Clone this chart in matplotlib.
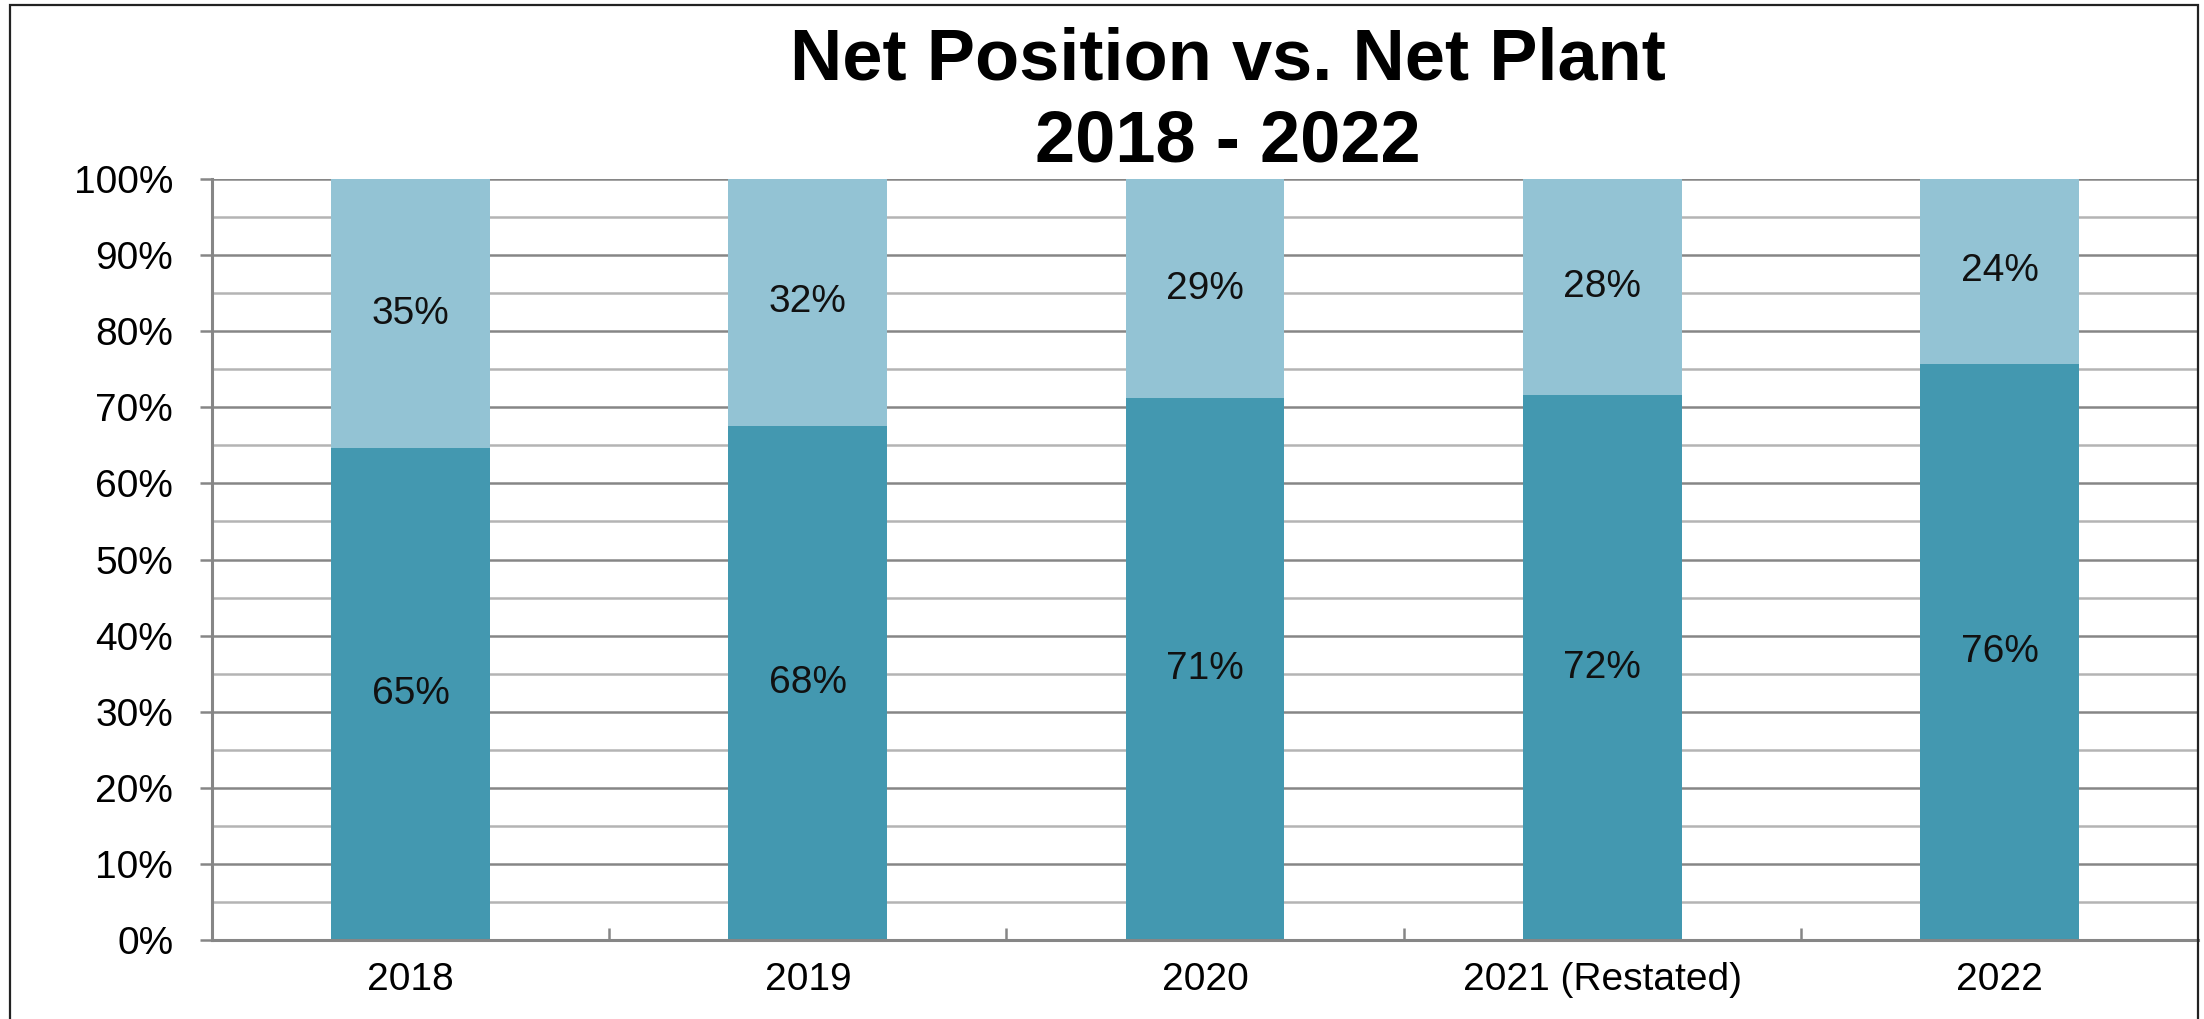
import numpy as np
import matplotlib.pyplot as plt
from matplotlib.ticker import MultipleLocator, FixedLocator, PercentFormatter
from matplotlib.patches import Rectangle

# data (percent of each bar)
years = ["2018", "2019", "2020", "2021 (Restated)", "2022"]
lower_pct = [64.6, 67.6, 71.2, 71.6, 75.7]
upper_pct = [35.4, 32.4, 28.8, 28.4, 24.3]

title_lines = ["Net Position vs. Net Plant", "2018 - 2022"]

dark = "#4398b0"
light = "#93c3d4"
major_grid = "#868686"
minor_grid = "#b4b4b4"

plt.rcParams['font.family'] = ['Liberation Sans', 'DejaVu Sans']

fig = plt.figure(figsize=(22.04, 10.19), dpi=100)
ax = fig.add_axes([0.0962, 0.0775, 0.9011, 0.7468])

x = np.arange(len(years))
b1 = ax.bar(x, lower_pct, width=0.4, color=dark, zorder=3)
b2 = ax.bar(x, upper_pct, width=0.4, bottom=lower_pct, color=light, zorder=3)
ax.bar_label(b1, fmt='{:.0f}%', label_type='center', fontsize=28, color='#111111')
ax.bar_label(b2, fmt='{:.0f}%', label_type='center', fontsize=28, color='#111111')

ax.set_xlim(-0.5, len(years) - 0.5)
ax.set_ylim(0, 100)

# y axis: gridlines every 10 (dark) and every 5 (light)
ax.yaxis.set_major_locator(MultipleLocator(10))
ax.yaxis.set_minor_locator(MultipleLocator(5))
ax.yaxis.set_major_formatter(PercentFormatter(decimals=0))
ax.grid(which='major', axis='y', color=major_grid, linewidth=1.8, zorder=1)
ax.grid(which='minor', axis='y', color=minor_grid, linewidth=1.8, zorder=1)
ax.tick_params(axis='y', which='major', direction='out', length=9, width=1.8,
               color=major_grid, pad=19, labelsize=28)
ax.tick_params(axis='y', which='minor', length=0)

# x axis: labels at categories, small ticks between them
ax.set_xticks(x)
ax.set_xticklabels(years)
ax.xaxis.set_minor_locator(FixedLocator(x[:-1] + 0.5))
ax.tick_params(axis='x', which='major', length=0, pad=16, labelsize=28)
ax.tick_params(axis='x', which='minor', direction='in', length=9, width=1.8,
               color=major_grid)

for side in ['top', 'right']:
    ax.spines[side].set_visible(False)
for side in ['left', 'bottom']:
    ax.spines[side].set_color(major_grid)
    ax.spines[side].set_linewidth(2.2)
    ax.spines[side].set_zorder(4)

fig.text(0.557, 1 - 80 / 1019, title_lines[0], ha='center', va='baseline',
         fontsize=52, fontweight='bold')
fig.text(0.557, 1 - 162 / 1019, title_lines[1], ha='center', va='baseline',
         fontsize=52, fontweight='bold')

# outer border of the chart
fig.patches.append(Rectangle((10 / 2204, -0.01), (2198 - 10) / 2204, 1 - 5 / 1019 + 0.01,
                             transform=fig.transFigure, fill=False,
                             edgecolor='#222222', linewidth=1.6))

fig.savefig("out.png", dpi=100)
